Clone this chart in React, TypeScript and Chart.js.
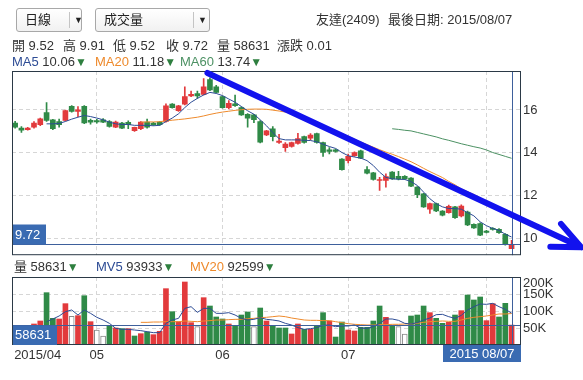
import React, { useEffect, useRef } from "react";
import { Chart, registerables } from "chart.js";

Chart.register(...registerables);

const FONT = '"Liberation Sans", Arial, "Noto Sans CJK TC", sans-serif';

// ---- data (one entry per trading day, 2015/04 .. 2015/08/07) ----
const opens = [
  15.39, 15.15, 15.08, 15.2, 15.31, 15.88, 15.54, 15.46, 15.51, 16.17,
  15.93, 16.17, 15.51, 15.5, 15.54, 15.46, 15.2, 15.39, 15.42, 15.03,
  15.12, 15.43, 15.39, 15.43, 15.46, 16.27, 15.96, 16.27, 16.65, 16.77,
  16.73, 17.42, 17.08, 16.62, 16.11, 16.28, 16.11, 15.8, 15.77, 15.46,
  14.83, 15.12, 14.48, 14.24, 14.29, 14.44, 14.75, 14.68, 14.9, 14.48,
  14.14, 14.14, 13.7, 13.63, 13.86, 14.09, 13.21, 13.06, 12.7, 12.7,
  13.09, 12.9, 12.9, 12.81, 12.39, 12.08, 11.36, 11.62, 11.27, 11.2,
  11.47, 11.05, 11.23, 10.65, 10.69, 10.34, 10.46, 10.42, 10.19, 9.52,
];
const highs = [
  15.47, 15.22, 15.19, 15.46, 15.62, 16.34, 15.56, 15.57, 15.99, 16.2,
  16.16, 16.2, 15.57, 15.56, 15.6, 15.5, 15.48, 15.42, 15.49, 15.2,
  15.46, 15.57, 15.42, 15.46, 16.28, 16.3, 16.22, 17.08, 16.88, 16.88,
  17.47, 17.5, 17.15, 16.65, 16.44, 16.7, 16.14, 15.83, 15.8, 15.5,
  15.05, 15.22, 14.86, 14.48, 14.5, 14.91, 14.78, 14.89, 14.92, 14.5,
  14.24, 14.17, 13.73, 13.94, 14.04, 14.12, 13.35, 13.08, 12.85, 13.01,
  13.12, 13.13, 12.93, 12.84, 12.42, 12.1, 11.65, 11.65, 11.3, 11.55,
  11.5, 11.56, 11.27, 10.68, 10.72, 10.37, 10.5, 10.45, 10.22, 9.91,
];
const lows = [
  15.15, 14.95, 15.05, 15.15, 15.26, 15.46, 15.08, 15.2, 15.49, 15.9,
  15.69, 15.36, 15.34, 15.38, 15.4, 15.2, 15.17, 15.12, 15.12, 15.0,
  15.08, 15.15, 15.28, 15.28, 15.43, 16.08, 15.93, 16.23, 16.62, 16.54,
  16.7, 16.9, 16.8, 16.08, 16.05, 16.16, 15.74, 15.19, 15.4, 14.46,
  14.8, 14.55, 14.44, 14.06, 14.26, 14.4, 14.45, 14.6, 14.45, 13.83,
  13.94, 14.03, 13.18, 13.52, 13.83, 13.72, 13.01, 12.72, 12.24, 12.39,
  12.75, 12.73, 12.75, 12.41, 11.9, 11.44, 11.16, 11.25, 11.05, 11.17,
  10.93, 11.0, 10.59, 10.46, 10.12, 10.25, 10.38, 10.23, 9.68, 9.52,
];
const closes = [
  15.2, 15.06, 15.15, 15.39, 15.59, 15.51, 15.12, 15.31, 15.97, 15.93,
  16.0, 15.39, 15.43, 15.44, 15.43, 15.23, 15.43, 15.15, 15.31, 15.19,
  15.43, 15.2, 15.31, 15.31, 16.19, 16.11, 16.19, 16.62, 16.73, 16.65,
  17.08, 16.93, 16.82, 16.11, 16.31, 16.2, 15.77, 15.62, 15.54, 14.49,
  15.02, 14.75, 14.55, 14.4, 14.48, 14.66, 14.48, 14.83, 14.48, 14.01,
  14.06, 14.06, 13.21, 13.83, 14.01, 13.75, 13.04, 12.75, 12.75, 12.89,
  12.78, 12.78, 12.78, 12.44, 12.04, 11.47, 11.62, 11.28, 11.08, 11.5,
  10.96, 11.51, 10.62, 10.49, 10.15, 10.28, 10.42, 10.26, 9.71, 9.72,
];
const ma5 = [
  null, null, null, null, null, 15.35, 15.35, 15.37, 15.46, 15.57,
  15.66, 15.74, 15.69, 15.62, 15.54, 15.43, 15.35, 15.32, 15.32, 15.28,
  15.28, 15.28, 15.26, 15.28, 15.46, 15.62, 15.82, 16.11, 16.36, 16.54,
  16.7, 16.82, 16.77, 16.67, 16.51, 16.36, 16.16, 15.96, 15.8, 15.54,
  15.26, 14.94, 14.66, 14.6, 14.6, 14.6, 14.58, 14.57, 14.51, 14.4,
  14.29, 14.2, 14.01, 13.86, 13.8, 13.75, 13.63, 13.4, 13.09, 12.85,
  12.78, 12.76, 12.75, 12.65, 12.47, 12.16, 11.85, 11.62, 11.47, 11.39,
  11.39, 11.36, 11.2, 11.05, 10.77, 10.59, 10.46, 10.37, 10.19, 10.06,
];
const ma20 = [
  null, null, null, null, null, null, null, null, null, null,
  null, null, null, null, null, null, null, null, null, null,
  15.43, 15.44, 15.44, 15.45, 15.49, 15.52, 15.55, 15.58, 15.62, 15.66,
  15.72, 15.79, 15.85, 15.9, 15.94, 15.98, 16.01, 16.03, 16.04, 16.04,
  16.03, 15.99, 15.95, 15.9, 15.84, 15.74, 15.64, 15.55, 15.42, 15.29,
  15.16, 15.03, 14.9, 14.77, 14.63, 14.5, 14.38, 14.26, 14.14, 14.03,
  13.93, 13.82, 13.7, 13.58, 13.43, 13.27, 13.12, 12.98, 12.84, 12.66,
  12.5, 12.31, 12.18, 12.05, 11.89, 11.75, 11.6, 11.46, 11.32, 11.18,
];
const ma60 = [
  null, null, null, null, null, null, null, null, null, null,
  null, null, null, null, null, null, null, null, null, null,
  null, null, null, null, null, null, null, null, null, null,
  null, null, null, null, null, null, null, null, null, null,
  null, null, null, null, null, null, null, null, null, null,
  null, null, null, null, null, null, null, null, null, null,
  15.12, 15.09, 15.05, 15.02, 14.95, 14.88, 14.81, 14.74, 14.65, 14.58,
  14.5, 14.42, 14.35, 14.28, 14.22, 14.13, 14.01, 13.92, 13.83, 13.74,
];
const volumes = [
  40000, 30000, 45000, 61800, 70600, 153900, 78400, 76500, 121600, 84300,
  86300, 145000, 68600, 44100, 26500, 57900, 50000, 48000, 48000, 26500,
  33300, 38200, 30400, 40200, 165700, 98000, 68600, 185300, 65700, 53900,
  139200, 114700, 82400, 76500, 61800, 57900, 88200, 97100, 53900, 108800,
  70600, 57900, 50000, 50000, 32400, 61800, 46100, 46100, 56900, 95100,
  70600, 23500, 67600, 44100, 41200, 51900, 51900, 70600, 114700, 81400,
  57900, 53900, 32400, 85300, 88200, 114700, 95100, 78400, 63700, 66600,
  88200, 101000, 147000, 132400, 141200, 71600, 121600, 82400, 122500, 58631,
];
// u = up (red), d = down (green), f = flat (hollow)
const volDir = [
  "d", "d", "u", "u", "u", "d", "d", "u", "u", "f",
  "u", "d", "u", "f", "f", "d", "u", "d", "u", "d",
  "u", "d", "u", "u", "u", "d", "u", "u", "u", "f",
  "u", "d", "d", "d", "u", "d", "d", "d", "f", "d",
  "u", "d", "d", "d", "u", "u", "d", "u", "d", "d",
  "u", "d", "d", "u", "u", "d", "d", "d", "d", "u",
  "d", "f", "f", "d", "d", "d", "u", "d", "d", "u",
  "d", "u", "d", "d", "d", "u", "u", "d", "d", "u",
];
const mv5 = [
  null, null, null, null, null, 68600, 76500, 85300, 98000, 103000,
  88200, 103000, 93100, 81400, 73500, 63700, 49000, 46100, 46100, 44100,
  42200, 39200, 36300, 36300, 63700, 73500, 78400, 107800, 112700, 96000,
  107800, 107800, 93100, 93100, 95100, 88200, 78400, 73500, 75500, 80400,
  75500, 73500, 70600, 63700, 58800, 51000, 46100, 48000, 51000, 57900,
  58800, 53900, 55900, 55900, 58800, 50000, 49000, 53900, 63700, 76500,
  76500, 72600, 63700, 61800, 65700, 73500, 79400, 89200, 90200, 83300,
  78400, 87200, 103000, 112700, 120600, 119600, 122500, 112700, 104900, 93933,
];
const mv20 = [
  null, null, null, null, null, null, null, null, null, null,
  null, null, null, null, null, null, null, null, null, null,
  66600, 66600, 67600, 67600, 68600, 68600, 68600, 70600, 69600, 68600,
  70600, 71600, 73500, 73500, 74500, 75500, 75500, 77400, 78400, 80400,
  81400, 83300, 85300, 83300, 79400, 76500, 73500, 72600, 72600, 71600,
  71600, 68600, 65700, 62700, 60800, 59800, 58800, 58800, 59800, 59800,
  60800, 60800, 61800, 61800, 63700, 66600, 68600, 69600, 70600, 69600,
  69600, 73500, 78400, 81400, 83300, 85300, 88200, 91200, 91200, 92599,
];
const priceTicks = [10, 12, 14, 16];
const volTicks = [50000, 100000, 150000, 200000];
const volTickLabels = ["50K", "100K", "150K", "200K"];
const monthTicks = [13, 33, 53, 75];
const monthLabels = ["05", "06", "07"];
const firstLabel = "2015/04";
const lastDateLabel = "2015 08/07";
const stockName = "友達(2409)";
const lastDate = "2015/08/07";
// hand-drawn trend arrow, in (day index, price)
const trendFrom = [30.6, 17.73];
const trendTo = [90.1, 9.58];

// ---- style ----
const RED = "#e23a3c";
const GREEN = "#2f8a47";
const GRID = "#d6d6d6";
const FRAME = "#2b3946";
const CROSS = "#3e609c";
const BOX = "#3a6bb2";
const C_MA5 = "#2d4c95";
const C_MA20 = "#ee8a2c";
const C_MA60 = "#4c9163";
const ARROW = "#1212ee";

const N = closes.length;
const last = N - 1;
const idx = closes.map((_, i) => i);

const toPts = (arr: (number | null)[]) =>
  arr.map((v, i) => (v == null ? null : { x: i, y: v })).filter(Boolean);

const lineDs = (arr: (number | null)[], color: string) => ({
  type: "line",
  data: toPts(arr),
  borderColor: color,
  borderWidth: 1,
  pointRadius: 0,
  tension: 0,
  fill: false,
  order: 0,
});

const xScale = {
  type: "linear",
  min: -0.5,
  max: 80.5,
  offset: false,
  ticks: { display: false },
  grid: { color: GRID, drawTicks: false, offset: false },
  border: { display: false, dash: [4, 3] },
  afterBuildTicks: (s: any) => {
    s.ticks = monthTicks.map((v) => ({ value: v }));
  },
};

function PriceChart() {
  const ref = useRef<HTMLCanvasElement>(null);
  useEffect(() => {
    const cColor = idx.map((i) => (closes[i] >= opens[i] ? RED : GREEN));
    const overlay = {
      id: "priceOverlay",
      afterDraw(chart: any) {
        const { ctx, chartArea: a, scales } = chart;
        const x = scales.x;
        const y = scales.y;
        ctx.save();
        const yl = Math.round(y.getPixelForValue(closes[last])) + 0.5;
        const xl = Math.round(x.getPixelForValue(last)) + 0.5;
        ctx.strokeStyle = CROSS;
        ctx.lineWidth = 1;
        ctx.beginPath();
        ctx.moveTo(a.left, yl);
        ctx.lineTo(a.right, yl);
        ctx.moveTo(xl, a.top);
        ctx.lineTo(xl, a.bottom);
        ctx.stroke();
        ctx.strokeStyle = FRAME;
        ctx.strokeRect(a.left + 0.5, a.top + 0.5, a.right - a.left - 1, a.bottom - a.top - 1);
        ctx.fillStyle = BOX;
        ctx.fillRect(a.left + 1, yl - 20, 33, 20);
        ctx.fillStyle = "#ffffff";
        ctx.font = `13px ${FONT}`;
        ctx.textBaseline = "middle";
        ctx.textAlign = "left";
        ctx.fillText(closes[last].toFixed(2), a.left + 3, yl - 9.5);
        // trend arrow
        const x1 = x.getPixelForValue(trendFrom[0]);
        const y1 = y.getPixelForValue(trendFrom[1]);
        const x2 = x.getPixelForValue(trendTo[0]);
        const y2 = y.getPixelForValue(trendTo[1]);
        const ang = Math.atan2(y2 - y1, x2 - x1);
        const L = 31;
        ctx.strokeStyle = ARROW;
        ctx.lineWidth = 6;
        ctx.lineCap = "round";
        ctx.lineJoin = "round";
        ctx.beginPath();
        ctx.moveTo(x1, y1);
        ctx.lineTo(x2, y2);
        ctx.moveTo(x2 + L * Math.cos(ang + Math.PI - 0.42), y2 + L * Math.sin(ang + Math.PI - 0.42));
        ctx.lineTo(x2, y2);
        ctx.lineTo(x2 + L * Math.cos(ang + Math.PI + 0.42), y2 + L * Math.sin(ang + Math.PI + 0.42));
        ctx.stroke();
        ctx.restore();
      },
    };
    const chart = new Chart(ref.current as HTMLCanvasElement, {
      type: "bar",
      data: {
        datasets: [
          lineDs(ma5, C_MA5),
          lineDs(ma20, C_MA20),
          lineDs(ma60, C_MA60),
          {
            data: idx.map((i) => ({ x: i, y: [opens[i], closes[i]] })),
            backgroundColor: cColor,
            barThickness: 5,
            grouped: false,
            minBarLength: 1,
            order: 1,
          },
          {
            data: idx.map((i) => ({ x: i, y: [lows[i], highs[i]] })),
            backgroundColor: cColor,
            barThickness: 1,
            grouped: false,
            order: 2,
          },
        ] as any,
      },
      options: {
        animation: false,
        responsive: false,
        maintainAspectRatio: false,
        events: [],
        layout: { padding: { left: 12, top: 71, right: 0, bottom: 8 } },
        plugins: { legend: { display: false }, tooltip: { enabled: false } },
        scales: {
          x: xScale as any,
          y: {
            position: "right",
            min: 9.21,
            max: 17.82,
            afterBuildTicks: (s: any) => {
              s.ticks = priceTicks.map((v) => ({ value: v }));
            },
            afterFit: (s: any) => {
              s.width = 62;
            },
            ticks: { color: "#333333", font: { size: 13, family: FONT }, padding: 2 },
            grid: { color: GRID, drawTicks: false },
            border: { display: false, dash: [4, 3] },
          },
        },
      } as any,
      plugins: [overlay],
    });
    return () => chart.destroy();
  }, []);
  return (
    <canvas
      ref={ref}
      width={583}
      height={265}
      style={{ position: "absolute", left: 0, top: 0, width: 583, height: 265 }}
    />
  );
}

function VolumeChart() {
  const ref = useRef<HTMLCanvasElement>(null);
  useEffect(() => {
    const vFill = volDir.map((d) => (d === "u" ? RED : d === "d" ? GREEN : "#ffffff"));
    const vBorder = volDir.map((d) => (d === "f" ? "#8a8a8a" : "rgba(0,0,0,0)"));
    const vBw = volDir.map((d) => (d === "f" ? 1 : 0));
    const overlay = {
      id: "volOverlay",
      afterDraw(chart: any) {
        const { ctx, chartArea: a, scales } = chart;
        const x = scales.x;
        const y = scales.y;
        ctx.save();
        const yl = Math.round(y.getPixelForValue(volumes[last])) + 0.5;
        const xl = Math.round(x.getPixelForValue(last)) + 0.5;
        ctx.strokeStyle = CROSS;
        ctx.lineWidth = 1;
        ctx.beginPath();
        ctx.moveTo(a.left, yl);
        ctx.lineTo(a.right, yl);
        ctx.moveTo(xl, a.top);
        ctx.lineTo(xl, a.bottom);
        ctx.stroke();
        ctx.strokeStyle = FRAME;
        ctx.strokeRect(a.left + 0.5, a.top + 0.5, a.right - a.left - 1, a.bottom - a.top - 1);
        ctx.font = `13px ${FONT}`;
        ctx.textBaseline = "middle";
        // left value box
        ctx.fillStyle = BOX;
        ctx.fillRect(a.left + 1, yl, 44, a.bottom - yl);
        ctx.fillStyle = "#ffffff";
        ctx.textAlign = "left";
        ctx.fillText(String(volumes[last]), a.left + 3, (yl + a.bottom) / 2 + 0.5);
        // right axis labels
        ctx.fillStyle = "#333333";
        volTicks.forEach((v, k) => {
          let py = y.getPixelForValue(v);
          if (py < a.top + 6) py = a.top + 6;
          ctx.fillText(volTickLabels[k], a.right + 2, py + 0.5);
        });
        // bottom date labels
        const by = a.bottom + 10;
        ctx.fillText(firstLabel, x.getPixelForValue(0) - 1, by);
        ctx.textAlign = "center";
        monthLabels.forEach((lab, k) => {
          ctx.fillText(lab, x.getPixelForValue(monthTicks[k]), by);
        });
        ctx.fillStyle = BOX;
        ctx.fillRect(a.right - 78, a.bottom, 78, 17);
        ctx.fillStyle = "#ffffff";
        ctx.fillText(lastDateLabel, a.right - 39, a.bottom + 9);
        ctx.restore();
      },
    };
    const chart = new Chart(ref.current as HTMLCanvasElement, {
      type: "bar",
      data: {
        datasets: [
          lineDs(mv5, C_MA5),
          lineDs(mv20, C_MA20),
          {
            data: idx.map((i) => ({ x: i, y: volumes[i] })),
            backgroundColor: vFill,
            borderColor: vBorder,
            borderWidth: vBw,
            barThickness: 5,
            grouped: false,
            order: 1,
          },
        ] as any,
      },
      options: {
        animation: false,
        responsive: false,
        maintainAspectRatio: false,
        events: [],
        layout: { padding: { left: 12, top: 7, right: 0, bottom: 35 } },
        plugins: { legend: { display: false }, tooltip: { enabled: false } },
        scales: {
          x: xScale as any,
          y: {
            position: "right",
            min: 0,
            max: 200000,
            afterBuildTicks: (s: any) => {
              s.ticks = volTicks.map((v) => ({ value: v }));
            },
            afterFit: (s: any) => {
              s.width = 62;
            },
            ticks: { display: false },
            grid: { color: GRID, drawTicks: false },
            border: { display: false, dash: [4, 3] },
          },
        },
      } as any,
      plugins: [overlay],
    });
    return () => chart.destroy();
  }, []);
  return (
    <canvas
      ref={ref}
      width={583}
      height={110}
      style={{ position: "absolute", left: 0, top: 270, width: 583, height: 110 }}
    />
  );
}

const T = (props: { left: number; top: number; color?: string; size?: number; children: any }) => (
  <div
    style={{
      position: "absolute",
      left: props.left,
      top: props.top,
      whiteSpace: "nowrap",
      fontSize: props.size || 13,
      lineHeight: "15px",
      color: props.color || "#333333",
    }}
  >
    {props.children}
  </div>
);

const Tri = () => <span style={{ color: "#2e7f3f", fontSize: 12 }}>▼</span>;

function Dropdown(props: { left: number; width: number; sep: number; label: string }) {
  return (
    <div
      style={{
        position: "absolute",
        left: props.left,
        top: 8,
        width: props.width,
        height: 24,
        boxSizing: "border-box",
        border: "1px solid #a8a8a8",
        borderRadius: 3,
        background: "linear-gradient(#ffffff, #f1f1f1)",
      }}
    >
      <span style={{ position: "absolute", left: 8, top: 3, fontSize: 13, lineHeight: "16px", color: "#222" }}>
        {props.label}
      </span>
      <div style={{ position: "absolute", left: props.sep, top: 3, width: 1, height: 16, background: "#c4c4c4" }} />
      <span style={{ position: "absolute", left: props.sep + 5, top: 5, fontSize: 9, lineHeight: "12px", color: "#222" }}>
        ▼
      </span>
    </div>
  );
}

export default function App() {
  const chg = (closes[last] - closes[last - 1]).toFixed(2);
  return (
    <div
      style={{
        position: "absolute",
        left: 0,
        top: 0,
        width: 583,
        height: 380,
        background: "#ffffff",
        fontFamily: FONT,
        overflow: "hidden",
      }}
    >
      <PriceChart />
      <VolumeChart />
      <Dropdown left={16} width={66} sep={52} label="日線" />
      <Dropdown left={95} width={115} sep={97} label="成交量" />
      <T left={316} top={12}>{stockName}</T>
      <T left={388} top={12}>{"最後日期: " + lastDate}</T>
      <T left={12} top={38}>{"開 " + opens[last].toFixed(2)}</T>
      <T left={63} top={38}>{"高 " + highs[last].toFixed(2)}</T>
      <T left={113} top={38}>{"低 " + lows[last].toFixed(2)}</T>
      <T left={166} top={38}>{"收 " + closes[last].toFixed(2)}</T>
      <T left={217} top={38}>{"量 " + volumes[last]}</T>
      <T left={277} top={38}>{"漲跌 " + chg}</T>
      <T left={12} top={54}>
        <span style={{ color: C_MA5 }}>MA5</span> {(ma5[last] as number).toFixed(2)}
        <Tri />
      </T>
      <T left={95} top={54}>
        <span style={{ color: C_MA20 }}>MA20</span> {(ma20[last] as number).toFixed(2)}
        <Tri />
      </T>
      <T left={180} top={54}>
        <span style={{ color: C_MA60 }}>MA60</span> {(ma60[last] as number).toFixed(2)}
        <Tri />
      </T>
      <T left={14} top={259}>
        {"量 " + volumes[last]}
        <Tri />
      </T>
      <T left={96} top={259}>
        <span style={{ color: C_MA5 }}>MV5</span> {String(mv5[last])}
        <Tri />
      </T>
      <T left={190} top={259}>
        <span style={{ color: C_MA20 }}>MV20</span> {String(mv20[last])}
        <Tri />
      </T>
    </div>
  );
}
